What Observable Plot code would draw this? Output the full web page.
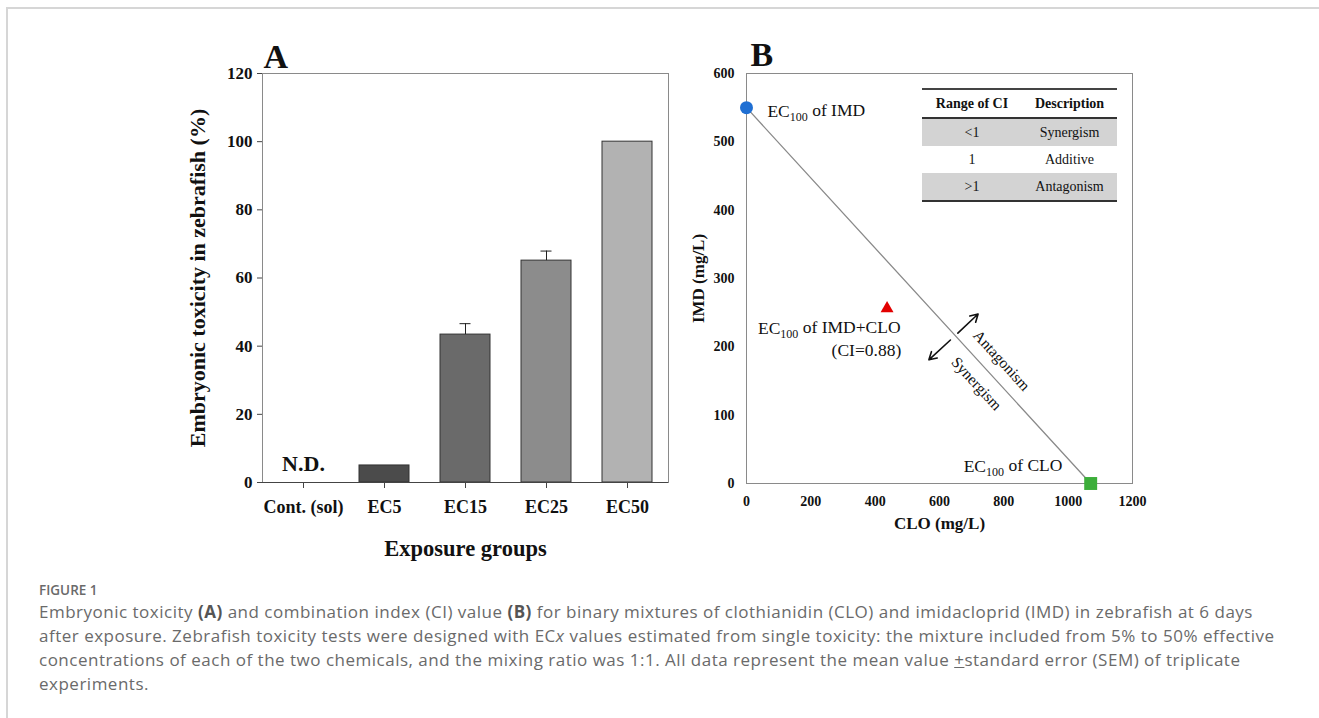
<!DOCTYPE html>
<html>
<head>
<meta charset="utf-8">
<script src="https://cdn.jsdelivr.net/npm/d3@7"></script>
<script src="https://cdn.jsdelivr.net/npm/@observablehq/plot@0.6"></script>
<style>
  body { margin: 0; background: #fff; }
  #page { position: relative; width: 1319px; height: 718px; overflow: hidden; background: #fff; }
  #border { position: absolute; left: 6px; top: 7px; width: 1400px; height: 800px; border-top: 2px solid #d6d6d6; border-left: 2px solid #d6d6d6; }
  #panelA { position: absolute; left: 180px; top: 30px; }
  #panelB { position: absolute; left: 680px; top: 30px; }
  #ciTable { position: absolute; left: 922px; top: 88px; width: 195px; border-collapse: collapse;
             font-family: "Liberation Serif", serif; font-size: 14px; color: #111; }
  #ciTable th { font-weight: bold; height: 27px; padding: 0; border-bottom: 2px solid #333; }
  #ciTable thead tr { border-top: 2px solid #444; }
  #ciTable td { height: 27px; padding: 0; text-align: center; }
  #ciTable tbody tr:nth-child(odd) td { background: #d3d3d3; }
  #ciTable tbody tr:last-child td { border-bottom: 2px solid #333; }
  #figLabel { position: absolute; left: 39px; top: 583px; font-family: "Open Sans", sans-serif; font-size: 13.5px;
              font-weight: 600; color: #6a6a6a; line-height: 15px; white-space: nowrap; }
  #caption { position: absolute; left: 39px; top: 600px; font-family: "Open Sans", sans-serif; font-size: 17px;
             letter-spacing: 0.5px; color: #6a6a6a; line-height: 24px; white-space: nowrap; }
  #caption b { color: #555; }
</style>
</head>
<body>
<div id="page">
  <div id="border"></div>
  <div id="panelA"></div>
  <div id="panelB"></div>
  <table id="ciTable"><thead><tr></tr></thead><tbody></tbody></table>
  <div id="figLabel"></div>
  <div id="caption"></div>
</div>
<script>
// ---------- Panel A data ----------
const groups = ["Cont. (sol)", "EC5", "EC15", "EC25", "EC50"];
const toxicity = [0, 5, 43.4, 65.1, 100];
const sem = [0, 0, 3.2, 2.8, 0];
const barFills = ["#ffffff", "#4b4b4b", "#6a6a6a", "#8c8c8c", "#b2b2b2"];
const yTicksA = [0, 20, 40, 60, 80, 100, 120];
const notDetected = [{ group: "Cont. (sol)", y: 0, label: "N.D." }];

// ---------- Panel B data ----------
const xTicksB = [0, 200, 400, 600, 800, 1000, 1200];
const yTicksB = [0, 100, 200, 300, 400, 500, 600];
const additiveLineCLO = [0, 1070];
const additiveLineIMD = [550, 0];
const pointCLO = [0, 1070, 437];
const pointIMD = [550, 0, 256];
const pointSymbol = ["circle", "square", "triangle"];
const pointColor = ["#1f6fd3", "#3cae3a", "#e20000"];
const pointR = [6.5, 7.3, 4.8];
const labelCLO = [65, 982, 479, 481];
const labelIMD = [545, 25, 227, 195];
const labelText = ["EC100 of IMD", "EC100 of CLO", "EC100 of IMD+CLO", "(CI=0.88)"];
const labelAnchor = ["start", "end", "end", "end"];
const regionCLO = [793, 715];
const regionIMD = [180, 146];
const regionText = ["Antagonism", "Synergism"];
const arrowCLO1 = [657, 634];
const arrowIMD1 = [220, 210];
const arrowCLO2 = [720, 567];
const arrowIMD2 = [248, 181];

// ---------- Table / caption ----------
const tableHeader = ["Range of CI", "Description"];
const tableRange = ["<1", "1", ">1"];
const tableDesc = ["Synergism", "Additive", "Antagonism"];
const figureLabel = "FIGURE 1";
const captionLines = [
  'Embryonic toxicity <b>(A)</b> and combination index (CI) value <b>(B)</b> for binary mixtures of clothianidin (CLO) and imidacloprid (IMD) in zebrafish at 6 days',
  'after exposure. Zebrafish toxicity tests were designed with EC<i>x</i> values estimated from single toxicity: the mixture included from 5% to 50% effective',
  'concentrations of each of the two chemicals, and the mixing ratio was 1:1. All data represent the mean value <u>+</u>standard error (SEM) of triplicate',
  'experiments.'
];

const serif = "'Liberation Serif', 'Times New Roman', serif";

// ---------- Panel A ----------
const dataA = groups.map((g, i) => ({ group: g, value: toxicity[i], se: sem[i], fill: barFills[i] }));
const plotA = Plot.plot({
  width: 500, height: 540,
  marginLeft: 82, marginRight: 12, marginTop: 43, marginBottom: 88,
  style: { fontFamily: serif, background: "transparent", color: "#111" },
  x: { domain: groups, paddingInner: 0.38, paddingOuter: 0.195, label: null },
  y: { domain: [0, 120], label: null },
  marks: [
    Plot.frame({ stroke: "#8a8a8a" }),
    Plot.barY(dataA.filter(d => d.value > 0), { x: "group", y: "value", fill: "fill", stroke: "#333", strokeWidth: 1 }),
    Plot.ruleX(dataA.filter(d => d.se > 0), { x: "group", y1: "value", y2: d => d.value + d.se, stroke: "#222" }),
    Plot.tickY(dataA.filter(d => d.se > 0), { x: "group", y: d => d.value + d.se, insetLeft: 19.5, insetRight: 19.5, stroke: "#222" }),
    Plot.ruleY([0], { stroke: "#444" }),
    Plot.axisY({ ticks: yTicksA, tickSize: 5, tickPadding: 5, fontSize: 17, fontWeight: "bold", label: null, stroke: "#444" }),
    Plot.axisX({ tickSize: 6, tickPadding: 12, fontSize: 18, fontWeight: "bold", label: null, stroke: "#444" }),
    Plot.text(["Embryonic toxicity in zebrafish (%)"], { frameAnchor: "left", textAnchor: "middle", lineAnchor: "middle", dx: -65, rotate: -90, fontSize: 22, fontWeight: "bold" }),
    Plot.text(["Exposure groups"], { frameAnchor: "bottom", lineAnchor: "middle", dy: 66, fontSize: 22.5, fontWeight: "bold" }),
    Plot.text(["A"], { frameAnchor: "top-left", textAnchor: "start", lineAnchor: "middle", dx: 1, dy: -16, fontSize: 34, fontWeight: "bold" }),
    Plot.text(notDetected, { x: "group", y: "y", text: "label", dy: -19, fontSize: 22, fontWeight: "bold" })
  ]
});
document.getElementById("panelA").appendChild(plotA);

// ---------- Panel B ----------
const lineB = additiveLineCLO.map((c, i) => ({ clo: c, imd: additiveLineIMD[i] }));
const pointsB = pointCLO.map((c, i) => ({ clo: c, imd: pointIMD[i], symbol: pointSymbol[i], color: pointColor[i], r: pointR[i] }));
const labelsB = labelText.map((t, i) => ({ clo: labelCLO[i], imd: labelIMD[i], text: t, anchor: labelAnchor[i] }));
const regionsB = regionText.map((t, i) => ({ clo: regionCLO[i], imd: regionIMD[i], text: t }));
const arrowsB = arrowCLO1.map((c, i) => ({ x1: c, y1: arrowIMD1[i], x2: arrowCLO2[i], y2: arrowIMD2[i] }));

const plotB = Plot.plot({
  width: 480, height: 520,
  marginLeft: 66, marginRight: 28, marginTop: 43, marginBottom: 67,
  style: { fontFamily: serif, background: "transparent", color: "#111" },
  x: { domain: [0, 1200], label: null },
  y: { domain: [0, 600], label: null },
  marks: [
    Plot.frame({ stroke: "#8a8a8a" }),
    Plot.axisX({ ticks: xTicksB, tickFormat: d => String(d), tickSize: 0, tickPadding: 13, fontSize: 14, fontWeight: "bold", label: null }),
    Plot.axisY({ ticks: yTicksB, tickFormat: d => String(d), tickSize: 0, tickPadding: 12, fontSize: 14, fontWeight: "bold", label: null }),
    Plot.line(lineB, { x: "clo", y: "imd", stroke: "#8a8a8a", strokeWidth: 1.3 }),
    Plot.arrow(arrowsB, { x1: "x1", y1: "y1", x2: "x2", y2: "y2", stroke: "#111", strokeWidth: 1.6, headLength: 8 }),
    Plot.dot(pointsB, { x: "clo", y: "imd", symbol: "symbol", fill: "color", r: "r", stroke: "none" }),
    Plot.text(labelsB.filter(d => d.anchor === "start"), { x: "clo", y: "imd", text: "text", textAnchor: "start", fontSize: 17.5, fill: "#111" }),
    Plot.text(labelsB.filter(d => d.anchor === "end"), { x: "clo", y: "imd", text: "text", textAnchor: "end", fontSize: 17.5, fill: "#111" }),
    Plot.text(regionsB, { x: "clo", y: "imd", text: "text", rotate: 47.5, fontSize: 15.5 }),
    Plot.text(["IMD (mg/L)"], { frameAnchor: "left", textAnchor: "middle", lineAnchor: "middle", dx: -48, rotate: -90, fontSize: 17, fontWeight: "bold" }),
    Plot.text(["CLO (mg/L)"], { frameAnchor: "bottom", lineAnchor: "middle", dy: 40, fontSize: 17, fontWeight: "bold" }),
    Plot.text(["B"], { frameAnchor: "top-left", textAnchor: "start", lineAnchor: "middle", dx: 4, dy: -18, fontSize: 34, fontWeight: "bold" })
  ],
  r: { type: "identity" },
  symbol: { type: "identity" }
});
document.getElementById("panelB").appendChild(plotB);

// subscripts for EC100
plotB.querySelectorAll("text").forEach(t => {
  const s = t.textContent;
  if (s.startsWith("EC100")) {
    const rest = s.slice(5);
    t.textContent = "";
    const ns = "http://www.w3.org/2000/svg";
    const a = document.createElementNS(ns, "tspan"); a.textContent = "EC";
    const b = document.createElementNS(ns, "tspan"); b.textContent = "100";
    b.setAttribute("font-size", "12"); b.setAttribute("dy", "0.35em");
    const c = document.createElementNS(ns, "tspan"); c.textContent = rest;
    c.setAttribute("dy", "-0.3em");
    t.append(a, b, c);
  }
});

// ---------- Table ----------
const headRow = document.querySelector("#ciTable thead tr");
tableHeader.forEach(h => { const th = document.createElement("th"); th.textContent = h; headRow.appendChild(th); });
headRow.children[0].style.width = "100px";
const tbody = document.querySelector("#ciTable tbody");
tableRange.forEach((r, i) => {
  const tr = document.createElement("tr");
  [r, tableDesc[i]].forEach(v => { const td = document.createElement("td"); td.textContent = v; tr.appendChild(td); });
  tbody.appendChild(tr);
});

// ---------- Caption ----------
document.getElementById("figLabel").textContent = figureLabel;
document.getElementById("caption").innerHTML = captionLines.join("<br>");
</script>
</body>
</html>
